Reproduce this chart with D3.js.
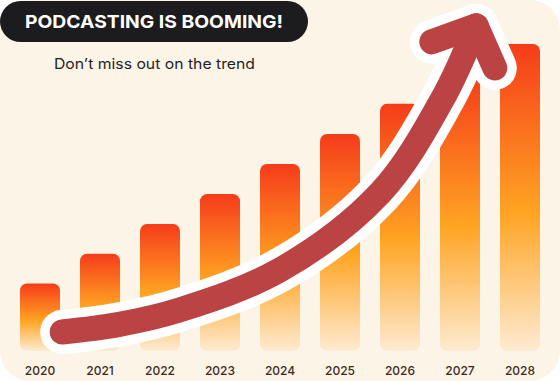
<!DOCTYPE html>
<html><head><meta charset="utf-8">
<script src="https://cdn.jsdelivr.net/npm/d3@7/dist/d3.min.js"></script>
<style>html,body{margin:0;padding:0;background:#fff;}svg{display:block;}</style>
</head><body>
<svg id="c" width="560" height="381"></svg>
<script>
const years = ["2020","2021","2022","2023","2024","2025","2026","2027","2028"];
const values = [22, 31.7, 41.4, 51.1, 60.9, 70.7, 80.5, 90.2, 100];
const title = "PODCASTING IS BOOMING!";
const subtitle = "Don\u2019t miss out on the trend";
// trend arrow, in data units (year position, value)
const trendX = [2020.37, 2021.3, 2022.33, 2024.0, 2025.67, 2026.7, 2027.27];
const trendV = [6.2, 8.6, 13.4, 26.4, 51.5, 81.8, 105.9];
const headX = [2026.53, 2027.27, 2027.58];
const headV = [100.7, 105.9, 92.2];

const W = 560, H = 381;
const svg = d3.select("#c");
const defs = svg.append("defs");
const g = defs.append("linearGradient").attr("id","bar").attr("x1",0).attr("y1",0).attr("x2",0).attr("y2",1);
[[0,"#f63c1a"],[0.55,"#ffa422"],[1,"#feebd2"]].forEach(([o,c])=>g.append("stop").attr("offset",o).attr("stop-color",c));

svg.append("rect").attr("x",0).attr("y",0).attr("width",W).attr("height",H).attr("rx",30).attr("fill","#fdf4e8");

const x = d3.scaleBand().domain(years).range([10,550]).paddingInner(1/3).paddingOuter(1/6);
const y = d3.scaleLinear().domain([0,100]).range([351,44]);
const xc = d3.scaleLinear().domain([2020,2028]).range([x("2020")+x.bandwidth()/2, x("2028")+x.bandwidth()/2]);

svg.append("g").selectAll("rect").data(years).join("rect")
  .attr("x", d=>x(d)).attr("width", x.bandwidth())
  .attr("y", (d,i)=>y(values[i])).attr("height",(d,i)=>y(0)-y(values[i]))
  .attr("rx",7).attr("fill","url(#bar)");

const axis = d3.axisBottom(x).tickSize(0).tickPadding(0);
const ax = svg.append("g").attr("transform","translate(0,366)").call(axis);
ax.select(".domain").remove();
ax.selectAll("text").attr("font-family","Inter, sans-serif").attr("font-size",12).attr("font-weight",500).attr("fill","#3b2a1f").attr("dy","0.71em").attr("y",0);

const line = d3.line().x(d=>xc(d[0])).y(d=>y(d[1])).curve(d3.curveCatmullRom.alpha(0.5));
const shaft = trendX.map((t,i)=>[t,trendV[i]]);
const head = headX.map((t,i)=>[t,headV[i]]);
const hl = d3.line().x(d=>xc(d[0])).y(d=>y(d[1]));
[["#ffffff",44],["#bb4343",25]].forEach(([c,w])=>{
  svg.append("path").attr("d",line(shaft)).attr("fill","none").attr("stroke",c).attr("stroke-width",w).attr("stroke-linecap","round").attr("stroke-linejoin","round");
  svg.append("path").attr("d",hl(head)).attr("fill","none").attr("stroke",c).attr("stroke-width",w).attr("stroke-linecap","round").attr("stroke-linejoin","round");
});

svg.append("rect").attr("x",0).attr("y",1).attr("width",308).attr("height",41).attr("rx",20.5).attr("fill","#1c1c1e");
svg.append("text").attr("x",154).attr("y",28).attr("text-anchor","middle")
  .attr("font-family","Inter, sans-serif").attr("font-size",18).attr("font-weight",700).attr("fill","#fff")
  .attr("textLength",258).attr("lengthAdjust","spacingAndGlyphs").text(title);
svg.append("text").attr("x",54).attr("y",69)
  .attr("font-family","Inter, sans-serif").attr("font-size",14.5).attr("font-weight",400).attr("fill","#1f1f1f")
  .attr("textLength",201).attr("lengthAdjust","spacingAndGlyphs").text(subtitle);
</script>
</body></html>
